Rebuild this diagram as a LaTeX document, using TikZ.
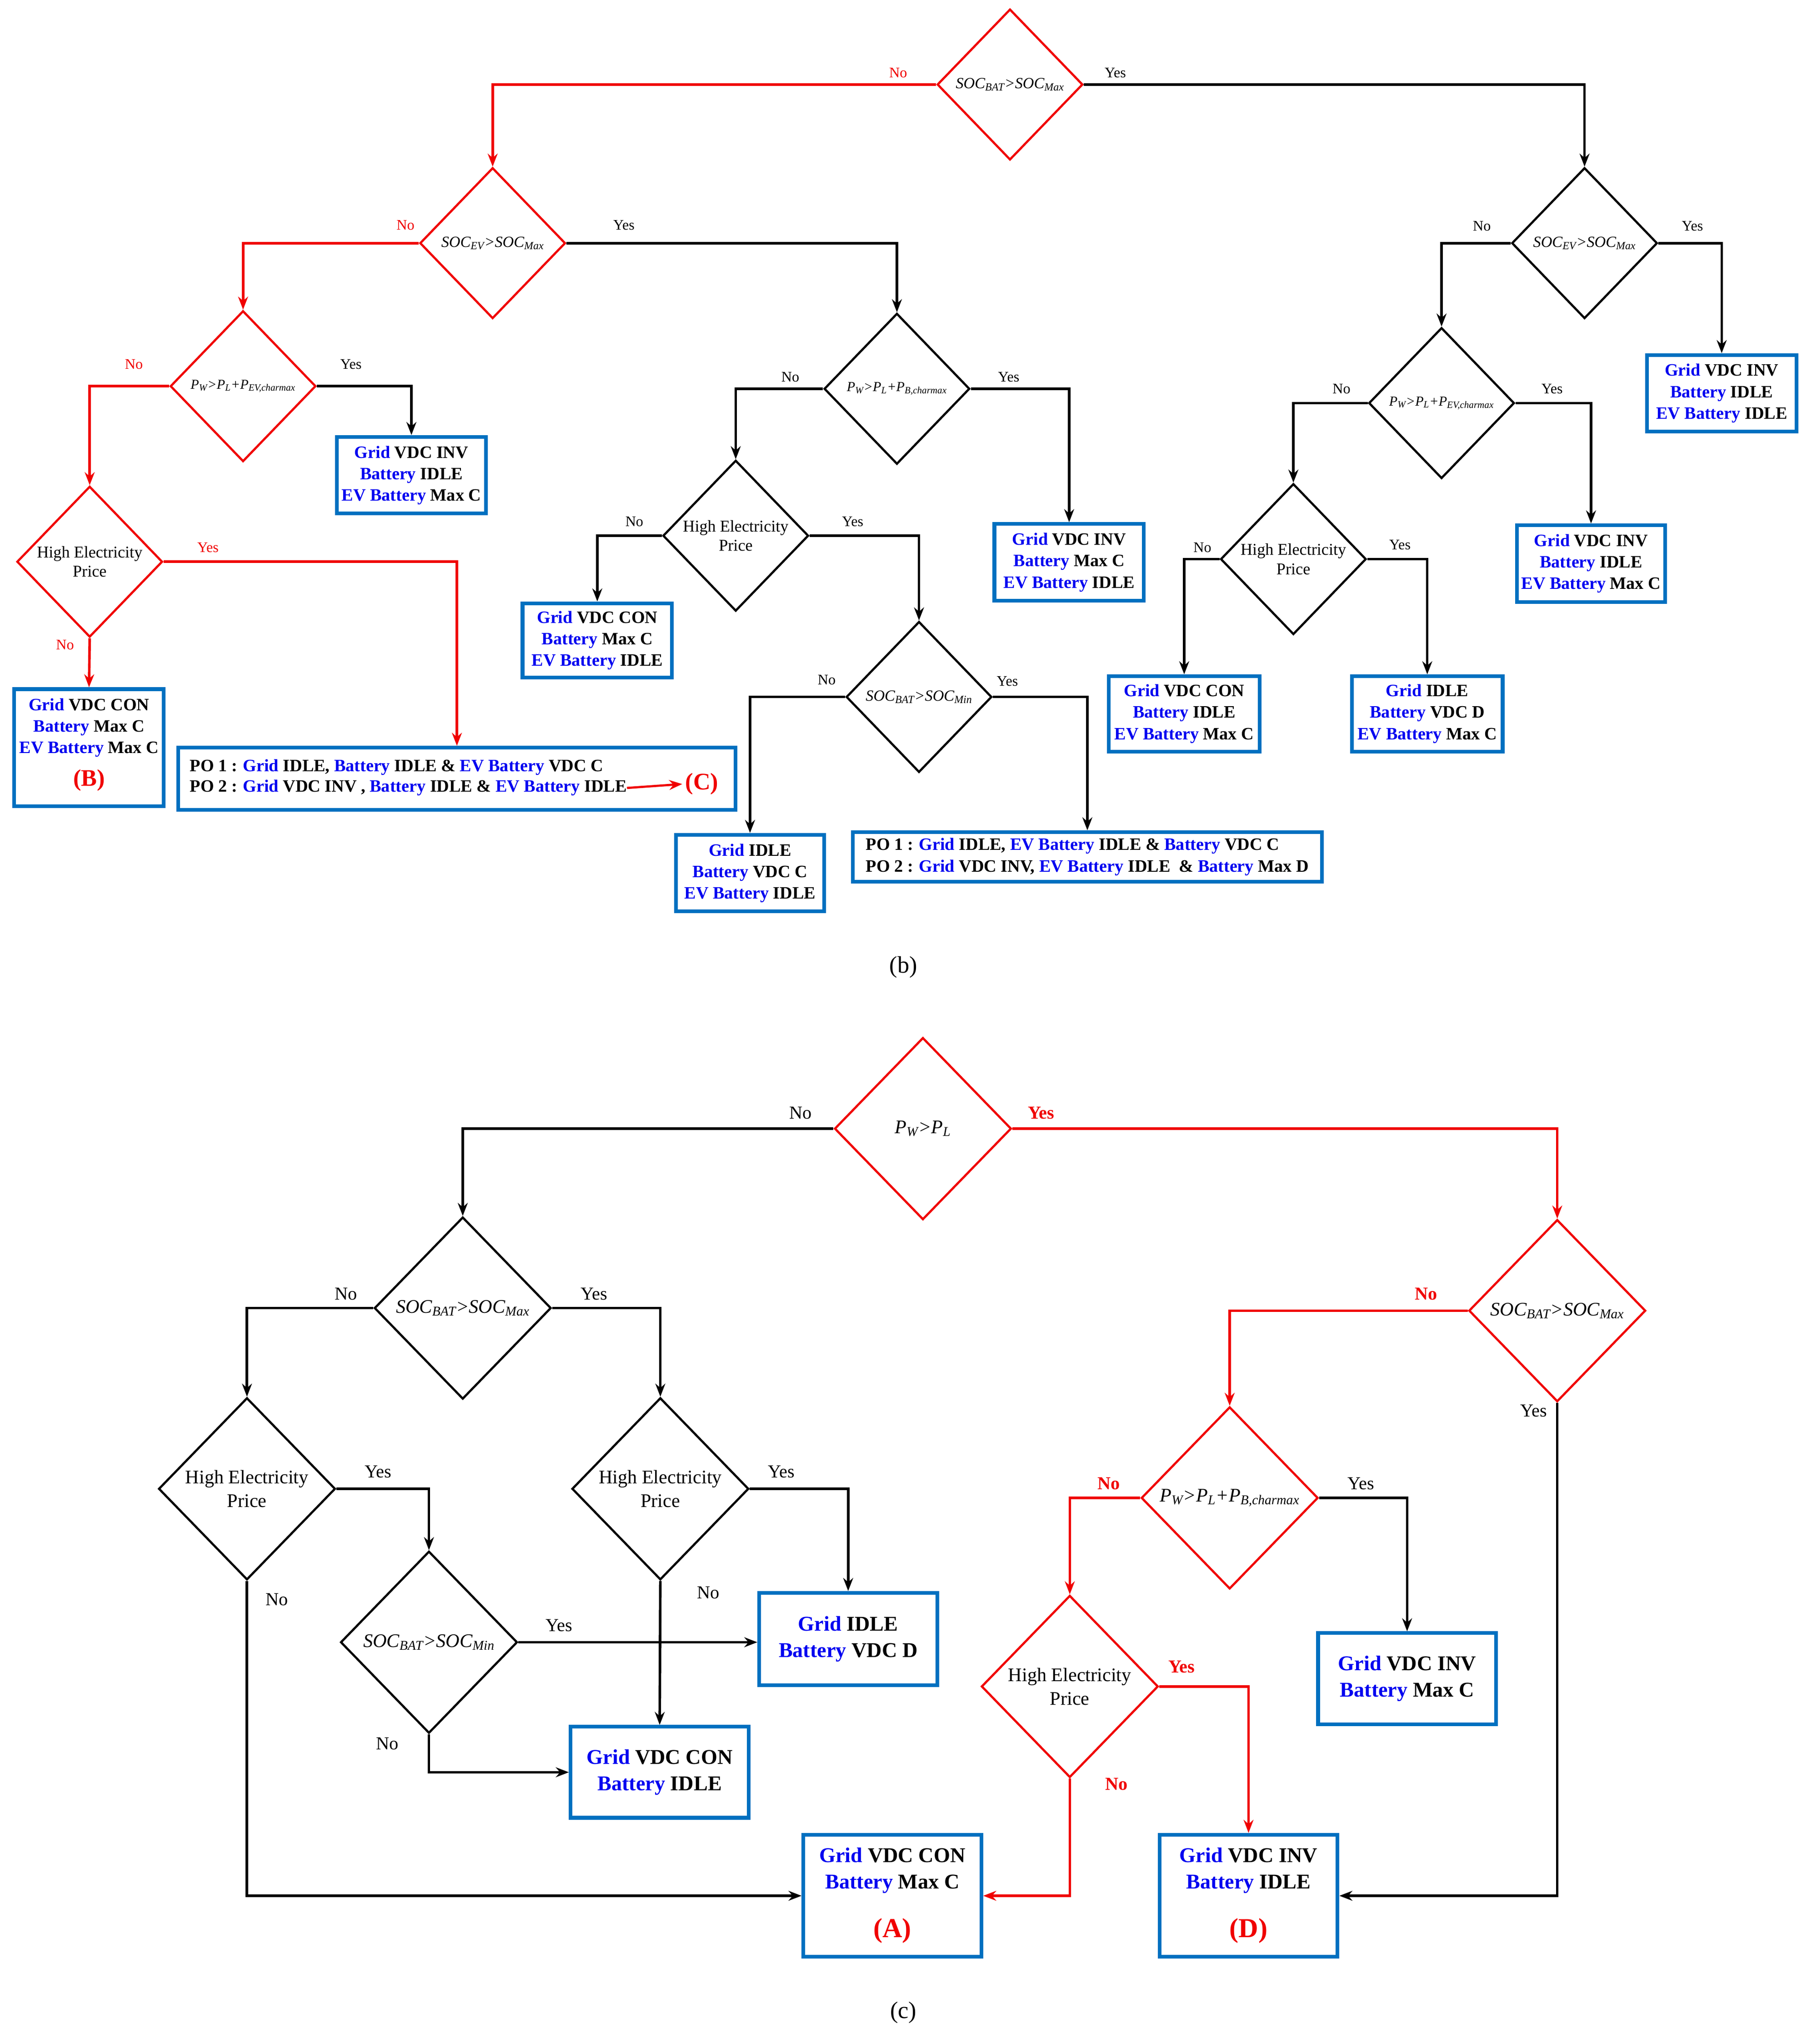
\documentclass[tikz,border=0pt]{standalone}
\usepackage{fontspec}
\setmainfont{Liberation Serif}
\usetikzlibrary{shapes.geometric,arrows.meta}
\definecolor{tb}{RGB}{0,0,240}
\definecolor{bb}{RGB}{0,112,192}
\definecolor{rr}{RGB}{240,0,0}
\newcommand{\cG}{\textcolor{tb}{Grid}}
\newcommand{\cB}{\textcolor{tb}{Battery}}
\newcommand{\cE}{\textcolor{tb}{EV Battery}}
\newcommand{\sB}[1]{\textsubscript{\itshape #1}}
\begin{document}
\begin{tikzpicture}[x=0.05cm,y=-0.05cm,
 ln/.style={line width=2.8pt,-{Stealth[length=0.5cm,width=0.38cm]}},
 rl/.style={ln,draw=rr},
 dia/.style={diamond,draw,line width=2.4pt,inner sep=0pt,shape aspect=1},
 db/.style={dia,minimum width=5.6cm,minimum height=5.8cm},
 dc/.style={dia,minimum width=6.8cm,minimum height=7cm},
 bt/.style={align=center,inner sep=0pt,font=\fontsize{19}{23.5}\selectfont\bfseries},
 btc/.style={bt,font=\fontsize{23}{28.5}\selectfont\bfseries},
 bx/.style={bt,draw=bb,line width=4pt},
 bxc/.style={btc,draw=bb,line width=4pt},
 lb/.style={font=\fontsize{16}{18}\selectfont},
 lc/.style={font=\fontsize{20}{22}\selectfont},
 lr/.style={lc,text=rr,font=\fontsize{20}{22}\selectfont\bfseries},
 tb/.style={font=\fontsize{17}{20}\selectfont\itshape},
 tbs/.style={font=\fontsize{15}{18}\selectfont\itshape},
 hb/.style={align=center,font=\fontsize{18}{21}\selectfont},
 tc/.style={font=\fontsize{21}{24}\selectfont\itshape},
 hc/.style={align=center,font=\fontsize{21}{26}\selectfont}]
\useasboundingbox (0,0) rectangle (1390,1572);
% ===== (b) diamonds
\node[db,draw=rr] (d1) at (777,65) {};
\node[tb] at (d1) {SOC\sB{BAT}>SOC\sB{Max}};
\node[db,draw=rr] (d2) at (379,187) {};
\node[tb] at (d2) {SOC\sB{EV}>SOC\sB{Max}};
\node[db] (d3) at (1219,187) {};
\node[tb] at (d3) {SOC\sB{EV}>SOC\sB{Max}};
\node[db,draw=rr] (d4) at (187,297) {};
\node[tbs] at (d4) {P\sB{W}>P\sB{L}+P\sB{EV,charmax}};
\node[db,draw=rr] (d7) at (69,432) {};
\node[hb] at (d7) {High Electricity\\Price};
\node[db] (d5) at (690,299) {};
\node[tbs] at (d5) {P\sB{W}>P\sB{L}+P\sB{B,charmax}};
\node[db] (d8) at (566,412) {};
\node[hb] at (d8) {High Electricity\\Price};
\node[db] (d9) at (707,536) {};
\node[tb] at (d9) {SOC\sB{BAT}>SOC\sB{Min}};
\node[db] (d6) at (1109,310) {};
\node[tbs] at (d6) {P\sB{W}>P\sB{L}+P\sB{EV,charmax}};
\node[db] (d10) at (995,430) {};
\node[hb] at (d10) {High Electricity\\Price};
% ===== (b) boxes
\node[bx,minimum width=5.75cm,minimum height=2.95cm] (b1) at (1324.5,302.5) {\cG{} VDC INV\\\cB{} IDLE\\\cE{} IDLE};
\node[bx,minimum width=5.75cm,minimum height=2.95cm] (b2) at (316.5,365.5) {\cG{} VDC INV\\\cB{} IDLE\\\cE{} Max C};
\node[bx,minimum width=5.75cm,minimum height=4.5cm] (bB) at (68.5,575) {};
\node[bt,anchor=north] at (68.5,537) {\cG{} VDC CON\\\cB{} Max C\\\cE{} Max C};
\node[text=rr,font=\fontsize{26}{28}\selectfont\bfseries] (lB) at (68.5,600) {(B)};
\node[bx,minimum width=21.45cm,minimum height=2.4cm] (po) at (351.5,599) {};
\node[bt,anchor=west] (po1) at (146,590) {PO 1 : \cG{} IDLE, \cB{} IDLE \& \cE{} VDC C};
\node[bt,anchor=west] (po2) at (146,606) {PO 2 : \cG{} VDC INV , \cB{} IDLE \& \cE{} IDLE};
\node[text=rr,font=\fontsize{26}{28}\selectfont\bfseries] (cC) at (540,603) {(C)};
\draw[line width=2.4pt,draw=rr,-{Stealth[length=0.5cm,width=0.38cm]}] (po2.east) -- (cC.west);
\node[bx,minimum width=5.75cm,minimum height=2.95cm] (b3) at (822.5,432.5) {\cG{} VDC INV\\\cB{} Max C\\\cE{} IDLE};
\node[bx,minimum width=5.75cm,minimum height=2.85cm] (b4) at (459.5,492.5) {\cG{} VDC CON\\\cB{} Max C\\\cE{} IDLE};
\node[bx,minimum width=5.7cm,minimum height=2.95cm] (b5) at (577,671.5) {\cG{} IDLE\\\cB{} VDC C\\\cE{} IDLE};
\node[bx,minimum width=18.05cm,minimum height=1.9cm,align=left] (b6) at (836.5,659) {PO 1 : \cG{} IDLE, \cE{} IDLE \& \cB{} VDC C\\PO 2 : \cG{} VDC INV, \cE{} IDLE \ \& \cB{} Max D};
\node[bx,minimum width=5.7cm,minimum height=2.95cm] (b7) at (1224,433.5) {\cG{} VDC INV\\\cB{} IDLE\\\cE{} Max C};
\node[bx,minimum width=5.8cm,minimum height=2.9cm] (b8) at (911,549) {\cG{} VDC CON\\\cB{} IDLE\\\cE{} Max C};
\node[bx,minimum width=5.8cm,minimum height=2.9cm] (b9) at (1098,549) {\cG{} IDLE\\\cB{} VDC D\\\cE{} Max C};
% ===== (b) connectors
\draw[rl] (d1.west) -| (d2.north);
\draw[ln] (d1.east) -| (d3.north);
\draw[rl] (d2.west) -| (d4.north);
\draw[ln] (d2.east) -| (d5.north);
\draw[ln] (d3.west) -| (d6.north);
\draw[ln] (d3.east) -| (b1.north);
\draw[rl] (d4.west) -| (d7.north);
\draw[ln] (d4.east) -| (b2.north);
\draw[rl] (d7.east) -| (po.north);
\draw[rl] (d7.south) -- (bB.north);
\draw[ln] (d5.west) -| (d8.north);
\draw[ln] (d5.east) -| (b3.north);
\draw[ln] (d8.west) -| (b4.north);
\draw[ln] (d8.east) -| (d9.north);
\draw[ln] (d9.west) -| (b5.north);
\draw[ln] (d9.east) -| (b6.north);
\draw[ln] (d6.west) -| (d10.north);
\draw[ln] (d6.east) -| (b7.north);
\draw[ln] (d10.west) -| (b8.north);
\draw[ln] (d10.east) -| (b9.north);
% (b) labels
\node[lb,text=rr] at (691,56) {No}; \node[lb] at (858,56) {Yes};
\node[lb,text=rr] at (312,173) {No}; \node[lb] at (480,173) {Yes};
\node[lb] at (1140,174) {No}; \node[lb] at (1302,174) {Yes};
\node[lb,text=rr] at (103,280) {No}; \node[lb] at (270,280) {Yes};
\node[lb,text=rr] at (160,421) {Yes}; \node[lb,text=rr] at (50,496) {No};
\node[lb] at (608,290) {No}; \node[lb] at (776,290) {Yes};
\node[lb] at (488,401) {No}; \node[lb] at (656,401) {Yes};
\node[lb] at (636,523) {No}; \node[lb] at (775,524) {Yes};
\node[lb] at (1032,299) {No}; \node[lb] at (1194,299) {Yes};
\node[lb] at (925,421) {No}; \node[lb] at (1077,419) {Yes};
\node[font=\fontsize{26}{28}\selectfont] (capb) at (695,744) {(b)};
% ===== (c) diamonds
\node[dc,draw=rr] (e1) at (710,868) {};
\node[tc] at (e1) {P\sB{W}>P\sB{L}};
\node[dc] (e2) at (356,1006) {};
\node[tc] at (e2) {SOC\sB{BAT}>SOC\sB{Max}};
\node[dc,draw=rr] (e3) at (1198,1008) {};
\node[tc] at (e3) {SOC\sB{BAT}>SOC\sB{Max}};
\node[dc] (e4) at (190,1145) {};
\node[hc] at (e4) {High Electricity\\Price};
\node[dc] (e5) at (508,1145) {};
\node[hc] at (e5) {High Electricity\\Price};
\node[dc] (e7) at (330,1263) {};
\node[tc] at (e7) {SOC\sB{BAT}>SOC\sB{Min}};
\node[dc,draw=rr] (e6) at (946,1152) {};
\node[tc] at (e6) {P\sB{W}>P\sB{L}+P\sB{B,charmax}};
\node[dc,draw=rr] (e8) at (823,1297) {};
\node[hc] at (e8) {High Electricity\\Price};
% (c) boxes
\node[bxc,minimum width=6.85cm,minimum height=3.55cm] (c1) at (652.5,1260.5) {\cG{} IDLE\\\cB{} VDC D};
\node[bxc,minimum width=6.85cm,minimum height=3.5cm] (c2) at (507.5,1363) {\cG{} VDC CON\\\cB{} IDLE};
\node[bxc,minimum width=6.85cm,minimum height=3.5cm] (c3) at (1082.5,1291) {\cG{} VDC INV\\\cB{} Max C};
\node[bxc,minimum width=6.85cm,minimum height=4.7cm] (cA) at (686.5,1458) {};
\node[btc,anchor=north] at (686.5,1421) {\cG{} VDC CON\\\cB{} Max C};
\node[text=rr,font=\fontsize{30}{32}\selectfont\bfseries] (lA) at (686.5,1485) {(A)};
\node[bxc,minimum width=6.85cm,minimum height=4.7cm] (cD) at (960.5,1458) {};
\node[btc,anchor=north] at (960.5,1421) {\cG{} VDC INV\\\cB{} IDLE};
\node[text=rr,font=\fontsize{30}{32}\selectfont\bfseries] (lD) at (960.5,1485) {(D)};
% (c) connectors
\draw[ln] (e1.west) -| (e2.north);
\draw[rl] (e1.east) -| (e3.north);
\draw[ln] (e2.west) -| (e4.north);
\draw[ln] (e2.east) -| (e5.north);
\draw[rl] (e3.west) -| (e6.north);
\draw[ln] (e3.south) |- (cD.east);
\draw[ln] (e4.east) -| (e7.north);
\draw[ln] (e4.south) |- (cA.west);
\draw[ln] (e5.east) -| (c1.north);
\draw[ln] (e5.south) -- (c2.north);
\draw[ln] (e7.east) -- (e7.east -| c1.west);
\draw[ln] (e7.south) |- (c2.west);
\draw[rl] (e6.west) -| (e8.north);
\draw[ln] (e6.east) -| (c3.north);
\draw[rl] (e8.east) -| (cD.north);
\draw[rl] (e8.south) |- (cA.east);
% (c) labels
\node[lc] at (616,856) {No}; \node[lr] at (801,856) {Yes};
\node[lc] at (266,995) {No}; \node[lc] at (457,995) {Yes};
\node[lr] at (1097,995) {No}; \node[lc] at (1180,1085) {Yes};
\node[lc] at (291,1132) {Yes}; \node[lc] at (213,1230) {No};
\node[lc] at (601,1132) {Yes}; \node[lc] at (545,1225) {No};
\node[lc] at (430,1250) {Yes}; \node[lc] at (298,1341) {No};
\node[lr] at (853,1141) {No}; \node[lc] at (1047,1141) {Yes};
\node[lr] at (909,1282) {Yes}; \node[lr] at (859,1372) {No};
\node[font=\fontsize{26}{28}\selectfont] (capc) at (695,1548) {(c)};
\end{tikzpicture}
\end{document}
